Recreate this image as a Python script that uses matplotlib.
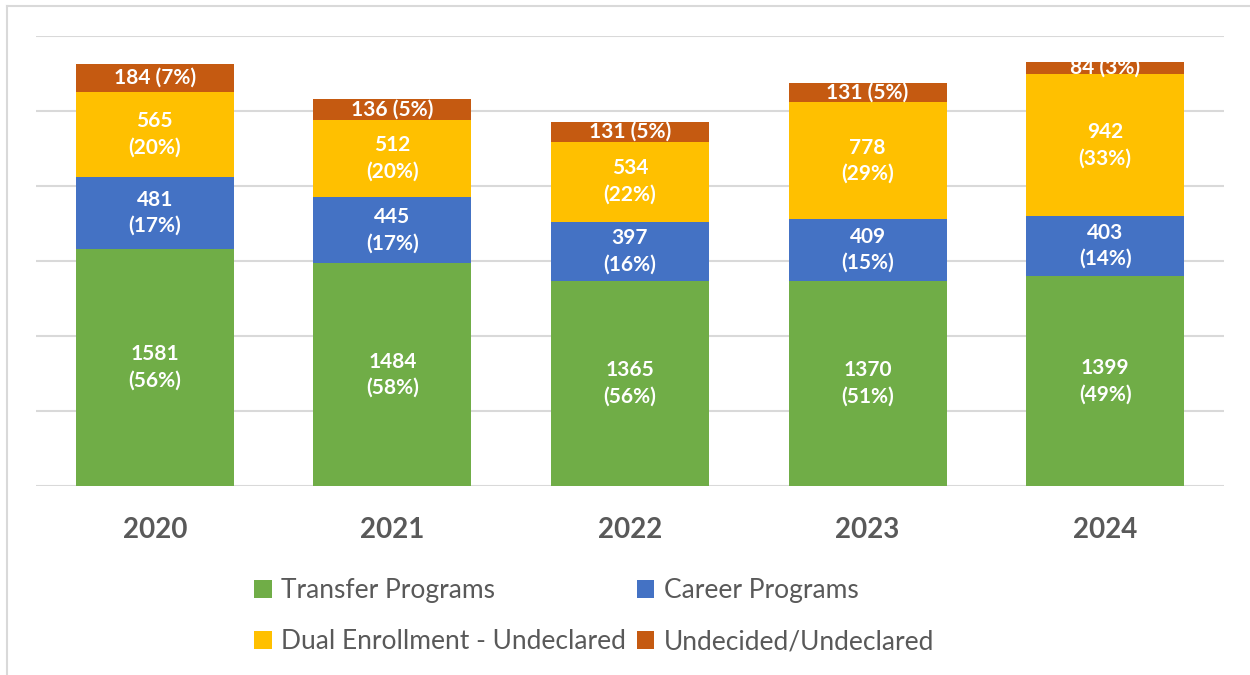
import matplotlib
matplotlib.use("Agg")
import matplotlib.pyplot as plt
import numpy as np
from matplotlib.lines import Line2D
from matplotlib.patches import Patch

years = ["2020", "2021", "2022", "2023", "2024"]
transfer = [1581, 1484, 1365, 1370, 1399]
career = [481, 445, 397, 409, 403]
dual = [565, 512, 534, 778, 942]
undecided = [184, 136, 131, 131, 84]

series_names = ["Transfer Programs", "Career Programs",
                "Dual Enrollment - Undeclared", "Undecided/Undeclared"]
colors = ["#70AD47", "#4472C4", "#FFC000", "#C55A11"]

plt.rcParams['font.family'] = ['Lato', 'DejaVu Sans']

fig = plt.figure(figsize=(12.5, 6.75), dpi=100)
ax = fig.add_axes([36/1250, 1 - 486/675, 1188/1250, 450/675])

series = [transfer, career, dual, undecided]
totals = np.sum(np.array(series), axis=0)
x = np.arange(len(years))
bottom = np.zeros(len(years))
for si, (vals, col) in enumerate(zip(series, colors)):
    vals = np.array(vals, dtype=float)
    ax.bar(x, vals, bottom=bottom, width=0.665, color=col, zorder=3,
           label=series_names[si])
    for i in range(len(years)):
        pct = round(vals[i] / totals[i] * 100)
        if si == 3:
            txt = f"{int(vals[i])} ({pct}%)"
        else:
            txt = f"{int(vals[i])}\n({pct}%)"
        ax.text(x[i], bottom[i] + vals[i] / 2, txt, ha="center", va="center",
                color="white", fontsize=15, fontweight="bold", zorder=4,
                linespacing=1.4)
    bottom += vals

ax.set_xlim(-0.5, 4.5)
ax.set_ylim(0, 3000)
ax.set_yticks(np.arange(0, 3001, 500))
ax.yaxis.grid(True, color="#D9D9D9", linewidth=1.5, zorder=0)
ax.set_axisbelow(True)
for s in ax.spines.values():
    s.set_visible(False)
ax.tick_params(axis="y", length=0, labelleft=False)
ax.tick_params(axis="x", length=0, pad=22)
ax.set_xticks(x)
ax.set_xticklabels(years, fontsize=20, fontweight="bold", color="#595959")

handles = [Patch(facecolor=c, edgecolor="none") for c in colors]
order = [0, 2, 1, 3]
leg = fig.legend([handles[i] for i in order], [series_names[i] for i in order],
                 ncol=2, loc="upper left", bbox_to_anchor=(254/1250, 1 - 578/675),
                 frameon=False, fontsize=19, handlelength=0.67, handleheight=0.67,
                 handletextpad=0.36, columnspacing=0.4, labelspacing=1.0,
                 borderaxespad=0, borderpad=0)
for t in leg.get_texts():
    t.set_color("#595959")

fig.add_artist(Line2D([7/1250, 7/1250], [0, 1 - 6/675], transform=fig.transFigure,
                      color="#D9D9D9", linewidth=1.5))
fig.add_artist(Line2D([7/1250, 1], [1 - 6/675, 1 - 6/675], transform=fig.transFigure,
                      color="#D9D9D9", linewidth=1.5))

fig.savefig("out.png", dpi=100)
